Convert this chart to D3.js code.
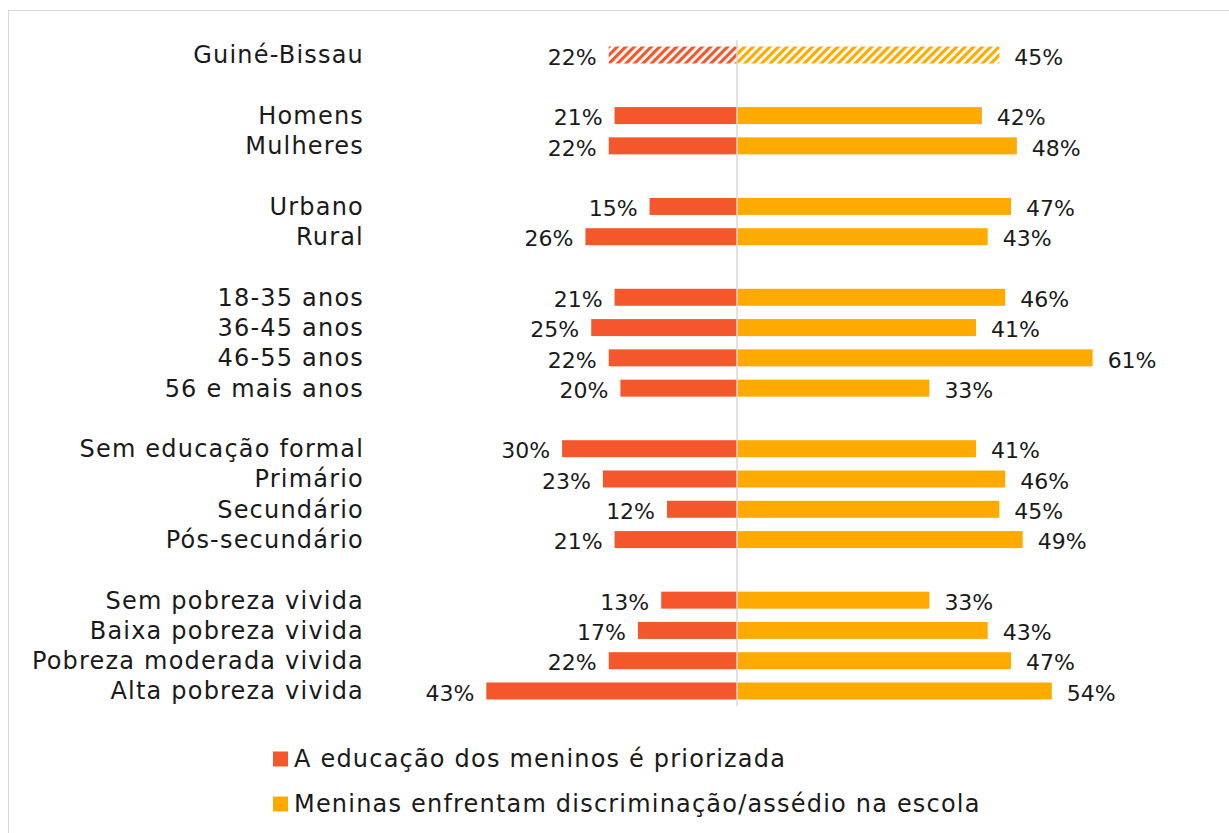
<!DOCTYPE html>
<html>
<head>
<meta charset="utf-8">
<script src="https://cdn.jsdelivr.net/npm/d3@7"></script>
<style>
  body { margin: 0; background: #fff; }
  svg text { font-family: "DejaVu Sans", sans-serif; fill: #1a1a1a; }
  .big { font-size: 24px; letter-spacing: 1.2px; }
  .val { font-size: 22px; letter-spacing: 0px; }
</style>
</head>
<body>
<svg id="chart"></svg>
<script>
// data
const categories = ["Guiné-Bissau", "Homens", "Mulheres", "Urbano", "Rural",
  "18-35 anos", "36-45 anos", "46-55 anos", "56 e mais anos",
  "Sem educação formal", "Primário", "Secundário", "Pós-secundário",
  "Sem pobreza vivida", "Baixa pobreza vivida", "Pobreza moderada vivida", "Alta pobreza vivida"];
const groupSizes = [1, 2, 2, 4, 4, 4];
const boysPrioritized = [22, 21, 22, 15, 26, 21, 25, 22, 20, 30, 23, 12, 21, 13, 17, 22, 43];
const girlsHarassed = [45, 42, 48, 47, 43, 46, 41, 61, 33, 41, 46, 45, 49, 33, 43, 47, 54];
const seriesNames = ["A educação dos meninos é priorizada", "Meninas enfrentam discriminação/assédio na escola"];
const colors = ["#F4572C", "#FFAA00"];

const w = 1229, h = 833;
const cx = 737;
const svg = d3.select("#chart").attr("width", w).attr("height", h);

// frame
svg.append("rect").attr("x", 8.5).attr("y", 10.5).attr("width", 1240).attr("height", 840)
  .attr("fill", "none").attr("stroke", "#d9d9d9").attr("stroke-width", 1);

// hatch patterns for the total row
const defs = svg.append("defs");
colors.forEach((c, i) => {
  const p = defs.append("pattern").attr("id", "hatch" + i)
    .attr("patternUnits", "userSpaceOnUse").attr("width", 6).attr("height", 6)
    .attr("patternTransform", "rotate(45)");
  p.append("rect").attr("width", 6).attr("height", 6).attr("fill", "#fff");
  p.append("rect").attr("width", 3.2).attr("height", 6).attr("fill", c);
});

// row slots with a blank slot between groups
const slots = [];
let k = 0;
groupSizes.forEach((n, gi) => {
  if (gi > 0) slots.push("gap" + gi);
  for (let j = 0; j < n; j++) slots.push(categories[k++]);
});

const y = d3.scalePoint().domain(slots).range([55, 691]);
const x = d3.scaleLinear().domain([0, 100]).range([0, 583]);
const barH = 17;

const rows = categories.map((c, i) => ({ c, a: boysPrioritized[i], b: girlsHarassed[i], i }));

svg.selectAll(".barL").data(rows).enter().append("rect")
  .attr("x", d => cx - x(d.a)).attr("y", d => y(d.c) - barH / 2)
  .attr("width", d => x(d.a)).attr("height", barH)
  .attr("fill", d => d.i === 0 ? "url(#hatch0)" : colors[0]);

svg.selectAll(".barR").data(rows).enter().append("rect")
  .attr("x", cx).attr("y", d => y(d.c) - barH / 2)
  .attr("width", d => x(d.b)).attr("height", barH)
  .attr("fill", d => d.i === 0 ? "url(#hatch1)" : colors[1]);

// center line over the bars
svg.append("line").attr("x1", cx).attr("x2", cx).attr("y1", 40).attr("y2", 706)
  .attr("stroke", "#d9d9d9").attr("stroke-width", 1.5);

svg.selectAll(".cat").data(rows).enter().append("text").attr("class", "big")
  .attr("x", 364).attr("y", d => y(d.c)).attr("dy", "0.35em")
  .attr("text-anchor", "end").text(d => d.c);

svg.selectAll(".valL").data(rows).enter().append("text").attr("class", "val")
  .attr("x", d => cx - x(d.a) - 12).attr("y", d => y(d.c) + 2).attr("dy", "0.35em")
  .attr("text-anchor", "end").text(d => d.a + "%");

svg.selectAll(".valR").data(rows).enter().append("text").attr("class", "val")
  .attr("x", d => cx + x(d.b) + 15).attr("y", d => y(d.c) + 2).attr("dy", "0.35em")
  .attr("text-anchor", "start").text(d => d.b + "%");

// legend
const lg = svg.selectAll(".lg").data(seriesNames).enter().append("g")
  .attr("transform", (d, i) => `translate(273, ${759 + i * 45})`);
lg.append("rect").attr("x", 0).attr("y", -7.5).attr("width", 15).attr("height", 15)
  .attr("fill", (d, i) => colors[i]);
lg.append("text").attr("class", "big").attr("x", 21).attr("y", 0).attr("dy", "0.35em")
  .text(d => d);
</script>
</body>
</html>
